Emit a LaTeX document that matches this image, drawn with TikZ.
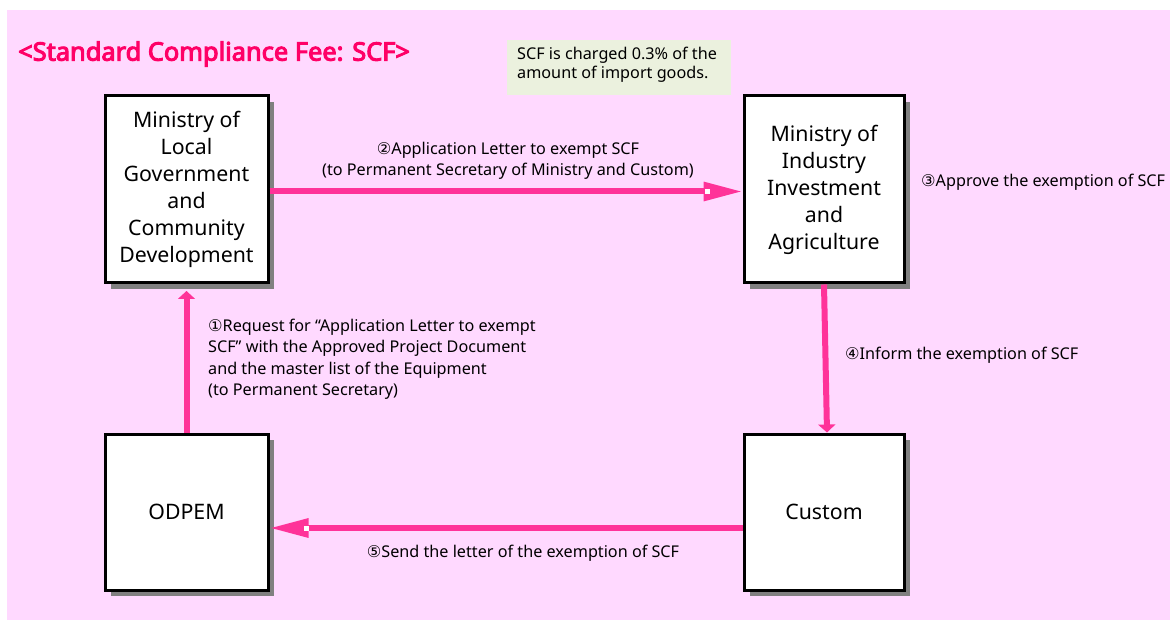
\documentclass[tikz,border=0pt]{standalone}
\usepackage{fontspec}
\setmainfont{Noto Sans}
\newfontfamily\titlefont[FakeBold=4]{Noto Sans}
\newfontfamily\symfont[Scale=1.0]{DejaVu Sans}
\usetikzlibrary{arrows.meta,shadows}
\definecolor{bgpink}{HTML}{FFD9FF}
\definecolor{arrowpink}{HTML}{FF3399}
\definecolor{titlered}{HTML}{FF0066}
\definecolor{notegreen}{HTML}{EBF1DE}
\definecolor{shadowgray}{HTML}{808080}
\newcommand{\cnum}[1]{{\symfont #1}}
\tikzset{
  orgbox/.style={draw=black, line width=3pt, fill=white, align=center,
    font=\fontsize{21.3}{27}\selectfont, inner sep=0pt,
    drop shadow={shadow xshift=6pt, shadow yshift=-6pt, fill=shadowgray, opacity=1}},
  conn/.style={draw=arrowpink, line width=6pt},
  bighead/.style={-{Triangle[length=39pt,width=18pt]}},
  smallhead/.style={-{Triangle[length=8pt,width=17pt]}},
  lbl/.style={font=\fontsize{16.2}{21.5}\selectfont, text=black, inner sep=0pt}
}
\begin{document}
\begin{tikzpicture}[x=1pt,y=-1pt]
\useasboundingbox (0,0) rectangle (1170,620);
\fill[white] (0,0) rectangle (1170,620);
\fill[bgpink] (7,10) rectangle (1170,620);

% title
\node[anchor=west, inner sep=0pt, text=titlered, font=\titlefont\fontsize{25.4}{29}\selectfont] (title) at (18,54) {<Standard Compliance Fee: SCF>};

% note
\node[fill=notegreen, anchor=north west, minimum width=224pt, minimum height=55pt, inner sep=0pt] (notebox) at (507,40) {};
\node[anchor=west, align=left, lbl, font=\fontsize{16.2}{19}\selectfont] (notetext) at (517,64.5) {SCF is charged 0.3\% of the\\amount of import goods.};

% boxes
\node[orgbox, minimum width=163pt, minimum height=187pt] (mlg) at (186.5,189.5) {Ministry of\\Local\\Government\\and\\Community\\Development};
\node[orgbox, minimum width=160pt, minimum height=187pt] (miia) at (824,189.5) {Ministry of\\Industry\\Investment\\and\\Agriculture};
\node[orgbox, minimum width=163pt, minimum height=156pt] (odpem) at (186.5,512) {ODPEM};
\node[orgbox, minimum width=160pt, minimum height=156pt] (cust) at (824,512) {Custom};

% connectors
\draw[conn, bighead] ([yshift=-2pt]mlg.east) -- ([yshift=-2pt]miia.west);
\fill[white] (705,189) rectangle (710,194);
\draw[conn, smallhead, shorten >=6.5pt] (odpem.north) -- (mlg.south);
\draw[conn, smallhead] (miia.south) -- ([xshift=3pt]cust.north);
\draw[conn, bighead] ([yshift=-16pt]cust.west) -- ([yshift=-16pt]odpem.east);
\fill[white] (304,526) rectangle (309,531);

% labels
\node[lbl, align=center] (l2) at (508,161) {\cnum{②}Application Letter to exempt SCF\\(to Permanent Secretary of Ministry and Custom)};
\node[lbl, anchor=west] (l3) at (921,182) {\cnum{③}Approve the exemption of SCF};
\node[lbl, anchor=west, align=left] (l1) at (208,359) {\cnum{①}Request for “Application Letter to exempt\\SCF” with the Approved Project Document\\and the master list of the Equipment\\(to Permanent Secretary)};
\node[lbl, anchor=west] (l4) at (845,355) {\cnum{④}Inform the exemption of SCF};
\node[lbl] (l5) at (523,553) {\cnum{⑤}Send the letter of the exemption of SCF};
\end{tikzpicture}
\end{document}
